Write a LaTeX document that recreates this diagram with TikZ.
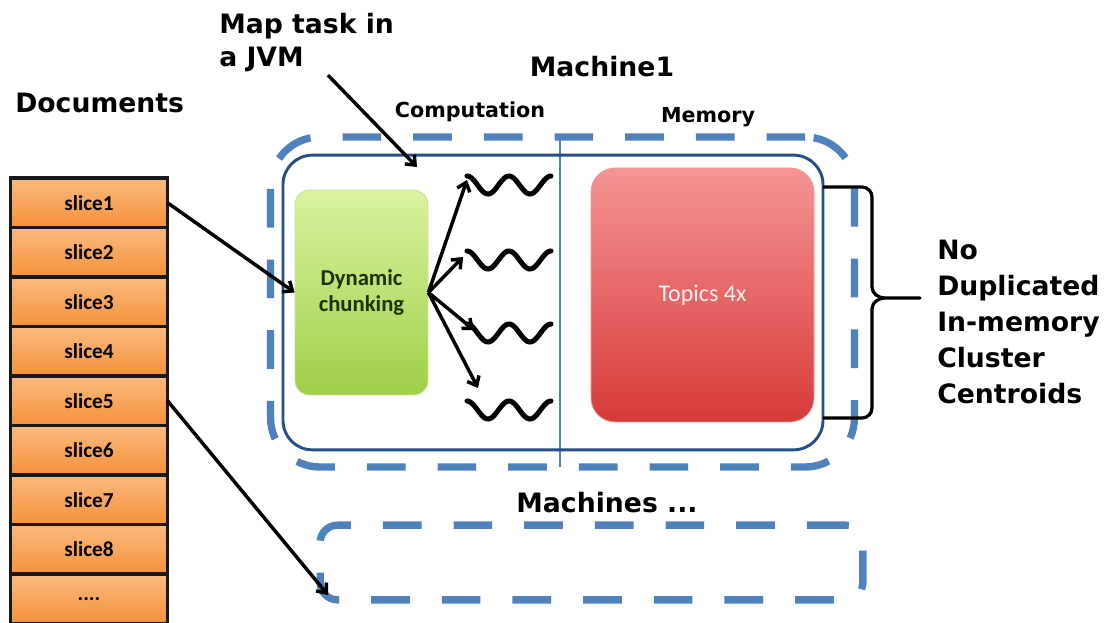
\documentclass[tikz,border=0pt]{standalone}
\usepackage{fontspec}
\setmainfont{DejaVu Sans}
\newfontfamily\calibri{Carlito}
\usetikzlibrary{arrows.meta, positioning}
\definecolor{dashblue}{RGB}{79,129,189}
\definecolor{jvmblue}{RGB}{40,78,135}
\definecolor{orangetop}{RGB}{250,186,128}
\definecolor{orangebot}{RGB}{245,146,58}
\definecolor{greentop}{RGB}{218,242,160}
\definecolor{greenbot}{RGB}{158,208,72}
\definecolor{redtop}{RGB}{246,148,148}
\definecolor{redbot}{RGB}{214,58,58}
\definecolor{darkgreen}{RGB}{30,50,10}
\tikzset{
  head/.style={font=\bfseries\fontsize{20}{25}\selectfont, inner sep=0pt},
  subhead/.style={font=\bfseries\fontsize{15.5}{18}\selectfont, inner sep=0pt},
  slicebox/.style={draw=black!90, line width=2.6pt, outer sep=0pt, inner sep=0pt,
    minimum width=117.75pt, minimum height=37.1pt, top color=orangetop, bottom color=orangebot,
    font=\calibri\bfseries\fontsize{16}{18}\selectfont},
  machine/.style={draw=dashblue, line width=5.5pt, dash pattern=on 29pt off 24pt, inner sep=0pt},
  jvm/.style={draw=jvmblue, line width=2.2pt, rounded corners=22pt, inner sep=0pt,
    minimum width=405pt, minimum height=221pt},
  arr/.style={->, line width=2.6pt},
  wave/.style={line width=3.8pt, line cap=round, line join=round},
  divider/.style={draw=dashblue, line width=1.5pt}
}
\begin{document}
\begin{tikzpicture}[x=0.75pt, y=-0.75pt, >={Straight Barb[length=6pt, width=10pt]}]
\useasboundingbox (0,0) rectangle (1118,623);

\node[head, anchor=west] (DOC) at (15,103) {Documents};
\node[head, anchor=north west, align=left] (MAP) at (219,13) {Map task in\\a JVM};
\node[head] (M1) at (602,67) {Machine1};
\node[subhead] (COMP) at (470,112) {Computation};
\node[subhead] (MEM) at (708,117) {Memory};
\node[head] (MS) at (607,503) {Machines ...};
\node[head, anchor=north west, align=left, font=\bfseries\fontsize{20}{27}\selectfont] (NODUP) at (937,240)
  {No\\Duplicated\\In-memory\\Cluster\\Centroids};

\foreach \i in {1,...,8}
  \node[slicebox] (S\i) at (89,{153.25+49.5*\i}) {slice\i};
\node[slicebox] (S9) at (89,598.75) {....};

\node[machine, rounded corners=37pt, minimum width=438pt, minimum height=247.5pt] (M1BOX) at (562.5,302) {};
\node[machine, rounded corners=13pt, minimum width=407pt, minimum height=56pt] (MSBOX) at (591.5,562.5) {};
\draw[divider] (560,137) -- (560,467);
\node[jvm] (JVM) at (553,302.5) {};

\node[draw=greenbot!60, line width=0.6pt, rounded corners=11pt, top color=greentop, bottom color=greenbot,
  minimum width=99.75pt, minimum height=153.75pt, inner sep=0pt, align=center, text=darkgreen,
  font=\calibri\bfseries\fontsize{17}{20}\selectfont] (DC) at (361.5,292.5) {Dynamic\\chunking};
\node[draw=redbot!50, line width=0.6pt, rounded corners=18pt, top color=redtop, bottom color=redbot,
  minimum width=167.25pt, minimum height=190.5pt, inner sep=0pt, text=white!95!red,
  font=\calibri\fontsize{18}{22}\selectfont] (TOP) at (702.5,295) {Topics 4x};

\coordinate (T1) at (467,180);
\coordinate (T2) at (463,257);
\coordinate (T3) at (474,330);
\coordinate (T4) at (478,388);
\coordinate (MAPTIP) at (417,167);
\coordinate (MSTIP) at (328,595);

\foreach \y in {185,260,333,410}
  \draw[wave] plot[domain=0:84, samples=60] ({467+\x}, {\y-9*cos(8.5714*\x)});

\draw[arr] (DC.east) -- (T1);
\draw[arr] (DC.east) -- (T2);
\draw[arr] (DC.east) -- (T3);
\draw[arr] (DC.east) -- (T4);
\draw[arr] (S1.east) -- (DC.west);
\draw[arr] (S5.east) -- (MSTIP);
\draw[arr] ([xshift=16pt,yshift=-2pt]MAP.south) -- (MAPTIP);

\draw[line width=2.4pt, line join=round] (823,187) -- (862,187) to[out=0,in=90] (872,197) -- (872,287)
  to[out=-90,in=180] (885,298) -- (920,298) -- (885,298) to[out=180,in=90] (872,309) -- (872,408)
  to[out=-90,in=0] (862,418) -- (823,418);
\end{tikzpicture}
\end{document}
